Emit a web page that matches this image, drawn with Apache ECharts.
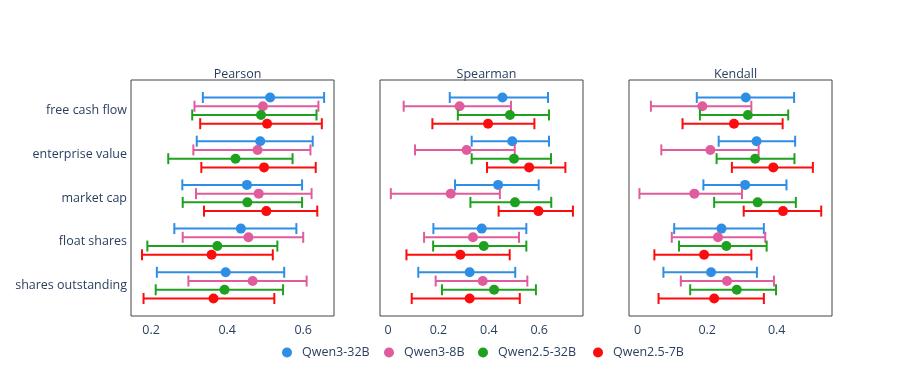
<!DOCTYPE html>
<html>
<head>
<meta charset="utf-8">
<script src="https://cdn.jsdelivr.net/npm/echarts@6/dist/echarts.min.js"></script>
<style>
  html, body { margin: 0; padding: 0; background: #fff; }
  #chart { width: 897px; height: 374px; }
</style>
</head>
<body>
<div id="chart"></div>
<script>
// categories, top to bottom
const categories = ['free cash flow', 'enterprise value', 'market cap', 'float shares', 'shares outstanding'];
const models = ['Qwen3-32B', 'Qwen3-8B', 'Qwen2.5-32B', 'Qwen2.5-7B'];
const panels = ['Pearson', 'Spearman', 'Kendall'];

// per model (rows) x category (cols)
const pearsonMean = [
  [0.513, 0.487, 0.452, 0.436, 0.396],
  [0.494, 0.480, 0.483, 0.456, 0.467],
  [0.489, 0.422, 0.453, 0.374, 0.393],
  [0.505, 0.497, 0.503, 0.359, 0.364]
];
const pearsonLow = [
  [0.336, 0.320, 0.282, 0.261, 0.215],
  [0.314, 0.311, 0.318, 0.283, 0.298],
  [0.308, 0.245, 0.283, 0.190, 0.212],
  [0.329, 0.332, 0.339, 0.176, 0.180]
];
const pearsonHigh = [
  [0.655, 0.625, 0.597, 0.582, 0.550],
  [0.640, 0.619, 0.622, 0.600, 0.609],
  [0.635, 0.572, 0.597, 0.532, 0.547],
  [0.649, 0.633, 0.637, 0.520, 0.524]
];

const spearmanMean = [
  [0.454, 0.493, 0.437, 0.372, 0.324],
  [0.284, 0.312, 0.249, 0.337, 0.376],
  [0.484, 0.500, 0.504, 0.380, 0.421],
  [0.397, 0.560, 0.597, 0.287, 0.324]
];
const spearmanLow = [
  [0.245, 0.332, 0.266, 0.180, 0.120],
  [0.062, 0.107, 0.011, 0.143, 0.189],
  [0.277, 0.332, 0.327, 0.179, 0.214],
  [0.176, 0.393, 0.439, 0.073, 0.094]
];
const spearmanHigh = [
  [0.635, 0.639, 0.598, 0.549, 0.505],
  [0.488, 0.503, 0.444, 0.520, 0.553],
  [0.639, 0.647, 0.648, 0.549, 0.587],
  [0.581, 0.704, 0.734, 0.483, 0.523]
];

const kendallMean = [
  [0.311, 0.342, 0.309, 0.241, 0.211],
  [0.186, 0.209, 0.163, 0.231, 0.257],
  [0.317, 0.338, 0.345, 0.255, 0.285],
  [0.277, 0.390, 0.418, 0.191, 0.220]
];
const kendallLow = [
  [0.170, 0.233, 0.189, 0.105, 0.074],
  [0.038, 0.068, 0.005, 0.098, 0.124],
  [0.179, 0.227, 0.220, 0.119, 0.151],
  [0.129, 0.271, 0.305, 0.048, 0.060]
];
const kendallHigh = [
  [0.450, 0.453, 0.428, 0.363, 0.343],
  [0.327, 0.348, 0.300, 0.367, 0.392],
  [0.433, 0.451, 0.455, 0.371, 0.398],
  [0.417, 0.504, 0.528, 0.327, 0.363]
];

const xTicks = [
  [0.2, 0.4, 0.6],
  [0, 0.2, 0.4, 0.6],
  [0, 0.2, 0.4]
];

const colors = ['#2e8ee6', '#e05c9c', '#1fa01f', '#fc0d0d'];
const font = '"Open Sans", Verdana, Arial, sans-serif';
const textColor = '#2a3f5f';

const panelData = [
  [pearsonMean, pearsonLow, pearsonHigh],
  [spearmanMean, spearmanLow, spearmanHigh],
  [kendallMean, kendallLow, kendallHigh]
];
const xRanges = [[0.147, 0.681], [-0.032, 0.774], [-0.025, 0.559]];
const gridLefts = [131, 380, 629];
const legendLefts = [282, 384, 478, 593];
// vertical shift of each model inside its category row (in row units)
const rowOffsets = [-0.3, -0.1, 0.1, 0.3];

const chart = echarts.init(document.getElementById('chart'));

function makeRender(m) {
  return function (params, api) {
    const mid = api.value(0), cat = api.value(1), lo = api.value(2), hi = api.value(3);
    const rowH = api.size([0, 1])[1];
    const y = api.coord([mid, cat])[1] + rowOffsets[m] * rowH;
    const xm = api.coord([mid, cat])[0];
    const xl = api.coord([lo, cat])[0];
    const xh = api.coord([hi, cat])[0];
    const cap = 5.5;
    const style = { stroke: colors[m], lineWidth: 2 };
    return {
      type: 'group',
      children: [
        { type: 'line', shape: { x1: xl, y1: y, x2: xh, y2: y }, style: style },
        { type: 'line', shape: { x1: xl, y1: y - cap, x2: xl, y2: y + cap }, style: style },
        { type: 'line', shape: { x1: xh, y1: y - cap, x2: xh, y2: y + cap }, style: style },
        { type: 'circle', shape: { cx: xm, cy: y, r: 5 }, style: { fill: colors[m] } }
      ]
    };
  };
}

const grids = [], xAxes = [], yAxes = [], series = [], titles = [];
panels.forEach((name, p) => {
  grids.push({
    left: gridLefts[p], top: 80, width: 203, height: 236,
    show: true, borderColor: '#444', borderWidth: 1, backgroundColor: '#fff'
  });
  titles.push({
    text: name, left: gridLefts[p] + 101.5, top: 63, textAlign: 'center',
    textStyle: { fontFamily: font, fontSize: 12.5, fontWeight: 'normal', color: textColor }
  });
  xAxes.push({
    type: 'value', gridIndex: p, min: xRanges[p][0], max: xRanges[p][1],
    axisLine: { show: false }, axisTick: { show: false }, splitLine: { show: false },
    axisLabel: {
      customValues: xTicks[p], margin: 8,
      fontFamily: font, fontSize: 12.5, color: textColor,
      formatter: v => String(+v.toFixed(2))
    }
  });
  yAxes.push({
    type: 'value', gridIndex: p, inverse: true, min: -0.7, max: 4.7,
    axisLine: { show: false }, axisTick: { show: false }, splitLine: { show: false },
    axisLabel: {
      show: p === 0, customValues: [0, 1, 2, 3, 4], margin: 4,
      fontFamily: font, fontSize: 12.5, color: textColor,
      formatter: v => categories[Math.round(v)] || ''
    }
  });
  const [mean, low, high] = panelData[p];
  models.forEach((model, m) => {
    series.push({
      type: 'custom', name: model, xAxisIndex: p, yAxisIndex: p,
      itemStyle: { color: colors[m] },
      encode: { x: [0, 2, 3], y: 1 },
      renderItem: makeRender(m),
      data: categories.map((c, i) => [mean[m][i], i, low[m][i], high[m][i]])
    });
  });
});

const legends = models.map((model, m) => ({
  data: [{ name: model, icon: 'circle' }],
  left: legendLefts[m], top: 346, padding: 0,
  itemWidth: 10, itemHeight: 10,
  textStyle: { fontFamily: font, fontSize: 12.5, color: textColor, padding: [0, 0, 0, 5] }
}));

chart.setOption({
  animation: false,
  backgroundColor: '#fff',
  title: titles,
  legend: legends,
  grid: grids,
  xAxis: xAxes,
  yAxis: yAxes,
  series: series
});
</script>
</body>
</html>
